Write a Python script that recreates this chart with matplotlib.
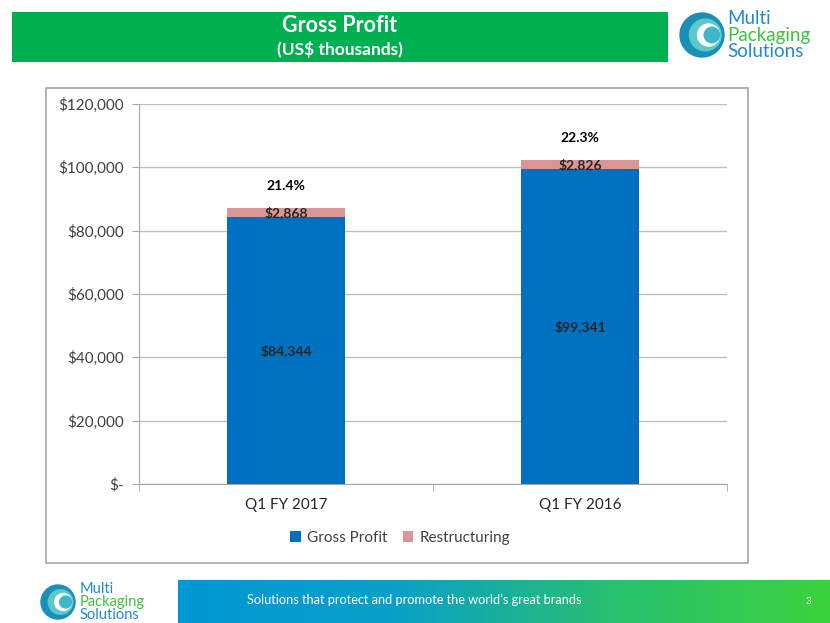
import matplotlib
matplotlib.use("Agg")
import matplotlib.pyplot as plt
import numpy as np
from matplotlib.colors import LinearSegmentedColormap
from matplotlib.patches import Rectangle, Circle

categories = ["Q1 FY 2017", "Q1 FY 2016"]
gross_profit = [84344, 99341]
restructuring = [2868, 2826]
margins = ["21.4%", "22.3%"]
yticks = [0, 20000, 40000, 60000, 80000, 100000, 120000]
ytick_labels = ["$-", "$20,000", "$40,000", "$60,000", "$80,000", "$100,000", "$120,000"]

plt.rcParams['font.family'] = ['Lato', 'DejaVu Sans']

W, H = 830, 623
fig = plt.figure(figsize=(W/100, H/100), dpi=100)
fig.patch.set_facecolor("white")

def fx(x): return x / W
def fy(y): return 1 - y / H

# Green banner
fig.patches.append(Rectangle((fx(12), fy(62)), fx(656), 50/H, transform=fig.transFigure,
                             facecolor="#00b050", edgecolor="none", zorder=1))
fig.text(fx(340), fy(26), "Gross Profit", color="white", fontsize=15.5, fontweight="bold",
         ha="center", va="center")
fig.text(fx(340), fy(49), "(US$ thousands)", color="white", fontsize=12.5, fontweight="bold",
         ha="center", va="center")

def logo(cx, cy, r, tx, size):
    ax = fig.add_axes([0, 0, 1, 1], zorder=5)
    ax.set_xlim(0, W); ax.set_ylim(H, 0); ax.axis("off")
    ax.add_patch(Circle((cx, cy), r, color="#1a8fb8"))
    ax.add_patch(Circle((cx + r*0.15, cy), r*0.72, color="#5cc8c8"))
    ax.add_patch(Circle((cx + r*0.3, cy), r*0.5, color="white"))
    ax.add_patch(Circle((cx + r*0.45, cy), r*0.35, color="#3fb6c9"))
    ax.text(tx, cy - size*1.2, "Multi", color="#1f8ad0", fontsize=size, va="center", ha="left")
    ax.text(tx, cy, "Packaging", color="#3cc23c", fontsize=size, va="center", ha="left")
    ax.text(tx, cy + size*1.2, "Solutions", color="#1f8ad0", fontsize=size, va="center", ha="left")
    return ax

logo(702, 35, 22, 727, 13.5)

# Chart box
fig.patches.append(Rectangle((fx(46), fy(563)), fx(702), 475/H, transform=fig.transFigure,
                             facecolor="white", edgecolor="#a6a6a6", linewidth=1.2, zorder=1))

ax = fig.add_axes([fx(139), fy(484), fx(727-139), 380/H], zorder=3)
ax.set_facecolor("none")
x = np.arange(len(categories))
ax.bar(x, gross_profit, width=0.4, color="#0070c0", label="Gross Profit", zorder=3)
ax.bar(x, restructuring, bottom=gross_profit, width=0.4, color="#da9694",
       label="Restructuring", zorder=3)
ax.set_xlim(-0.5, 1.5)
ax.set_ylim(0, 120000)
ax.set_yticks(yticks)
ax.set_yticklabels(ytick_labels, fontsize=11, color="#404040")
ax.set_xticks(x)
ax.set_xticklabels(categories, fontsize=11, color="#262626")
ax.set_xticks([-0.5, 0.5, 1.5], minor=True)
ax.tick_params(axis="x", which="major", length=0, pad=10)
ax.tick_params(axis="x", which="minor", length=5, color="#a6a6a6")
ax.tick_params(axis="y", length=5, color="#a6a6a6", pad=6)
ax.grid(axis="y", color="#bfbfbf", linewidth=1, zorder=0)
for s in ["top", "right"]:
    ax.spines[s].set_visible(False)
for s in ["left", "bottom"]:
    ax.spines[s].set_color("#a6a6a6")

for i in range(len(categories)):
    ax.text(x[i], gross_profit[i] / 2, f"${gross_profit[i]:,}", ha="center", va="center",
            fontsize=10, fontweight="bold", color="#262626", zorder=4)
    ax.text(x[i], gross_profit[i] + restructuring[i] / 2, f"${restructuring[i]:,}",
            ha="center", va="center", fontsize=10, fontweight="bold", color="#262626", zorder=4)
    ax.text(x[i], gross_profit[i] + restructuring[i] + 7000, margins[i], ha="center",
            va="center", fontsize=10, fontweight="bold", color="#000000", zorder=4)

ax.legend(loc="center", bbox_to_anchor=(fx(400), fy(538)), bbox_transform=fig.transFigure,
          ncol=2, frameon=False, fontsize=11, handlelength=0.7, handleheight=0.7,
          columnspacing=1.0, handletextpad=0.4, labelcolor="#404040")

# Footer gradient
fax = fig.add_axes([fx(178), 0, fx(830-178), 43/H], zorder=2)
cmap = LinearSegmentedColormap.from_list("g", ["#0098d4", "#0aa0c8", "#28c070", "#3cd23c"])
fax.imshow(np.linspace(0, 1, 256)[None, :], aspect="auto", cmap=cmap, extent=[0, 1, 0, 1])
fax.axis("off")
fig.text(fx(247), fy(600), "Solutions that protect and promote the world\u2019s great brands",
         color="white", fontsize=9.2, ha="left", va="center", zorder=6)
fig.text(fx(808), fy(601), "3", color="white", fontsize=7, ha="center", va="center", zorder=6)

logo(58, 602, 17, 80, 10.5)

fig.savefig("out.png", dpi=100)
